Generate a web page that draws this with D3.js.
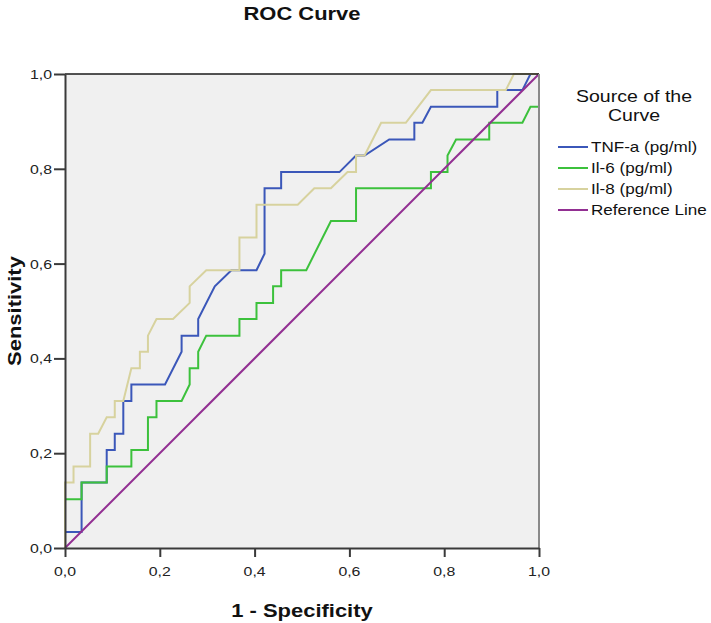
<!DOCTYPE html>
<html><head><meta charset="utf-8">
<script src="https://cdn.jsdelivr.net/npm/d3@7"></script>
<style>
body{margin:0;background:#fff}
svg{display:block}
text{font-family:"Liberation Sans",Arial,sans-serif}
</style>
</head><body>
<svg id="chart" width="711" height="623"></svg>
<script>
// ---- data ----
const tickValues = [0, 0.2, 0.4, 0.6, 0.8, 1.0];
const tickLabels = ["0,0", "0,2", "0,4", "0,6", "0,8", "1,0"];
const seriesNames = ["TNF-a (pg/ml)", "Il-6 (pg/ml)", "Il-8 (pg/ml)", "Reference Line"];
const seriesColors = ["#3b57b9", "#3cc13c", "#d7d29e", "#922f92"];

const tnfX = [0,0,0.035,0.035,0.088,0.088,0.105,0.105,0.123,0.123,0.140,0.140,0.211,0.246,0.246,0.281,0.281,0.316,0.351,0.404,0.421,0.421,0.456,0.456,0.579,0.614,0.632,0.684,0.737,0.737,0.754,0.772,0.912,0.912,0.965,0.982,1];
const tnfY = [0,0.034,0.034,0.138,0.138,0.207,0.207,0.241,0.241,0.310,0.310,0.345,0.345,0.414,0.448,0.448,0.483,0.552,0.586,0.586,0.621,0.759,0.759,0.793,0.793,0.828,0.828,0.862,0.862,0.897,0.897,0.931,0.931,0.966,0.966,1,1];

const il6X = [0,0,0.035,0.035,0.088,0.088,0.140,0.140,0.175,0.175,0.193,0.193,0.246,0.263,0.263,0.281,0.281,0.298,0.368,0.368,0.404,0.404,0.439,0.439,0.456,0.456,0.509,0.561,0.614,0.614,0.772,0.772,0.807,0.807,0.825,0.895,0.895,0.965,0.982,1,1];
const il6Y = [0,0.103,0.103,0.138,0.138,0.172,0.172,0.207,0.207,0.276,0.276,0.310,0.310,0.345,0.379,0.379,0.414,0.448,0.448,0.483,0.483,0.517,0.517,0.552,0.552,0.586,0.586,0.690,0.690,0.759,0.759,0.793,0.793,0.828,0.862,0.862,0.897,0.897,0.931,0.931,1];

const il8X = [0,0,0.018,0.018,0.053,0.053,0.070,0.088,0.105,0.105,0.123,0.140,0.158,0.158,0.175,0.175,0.193,0.228,0.263,0.263,0.298,0.368,0.368,0.404,0.404,0.491,0.526,0.561,0.596,0.614,0.614,0.632,0.667,0.719,0.772,0.930,0.947,1];
const il8Y = [0,0.138,0.138,0.172,0.172,0.241,0.241,0.276,0.276,0.310,0.310,0.379,0.379,0.414,0.414,0.448,0.483,0.483,0.517,0.552,0.586,0.586,0.655,0.655,0.724,0.724,0.759,0.759,0.793,0.793,0.828,0.828,0.897,0.897,0.966,0.966,1,1];

const refX = [0, 1];
const refY = [0, 1];

// ---- layout ----
const L = 65, R = 539, T = 74, B = 548;
const SX = 1.22; // horizontal text stretch
const svg = d3.select("#chart");
const x = d3.scaleLinear().domain([0, 1]).range([L, R]);
const y = d3.scaleLinear().domain([0, 1]).range([B, T]);

function stext(str, px, py, o) {
  const g = svg.append("g").attr("transform",
    `translate(${px},${py})` + (o.rotate ? ` rotate(${o.rotate})` : "") + ` scale(${SX},1)`);
  g.append("text")
    .attr("text-anchor", o.anchor || "start")
    .style("font-size", o.size + "px")
    .style("font-weight", o.bold ? "bold" : "normal")
    .attr("fill", o.fill || "#111")
    .text(str);
}

// plot background
svg.append("rect").attr("x", L).attr("y", T).attr("width", R - L).attr("height", B - T).attr("fill", "#f0f0f0");

// series
const line = d3.line().x(d => x(d[0])).y(d => y(d[1]));
const series = [d3.zip(tnfX, tnfY), d3.zip(il6X, il6Y), d3.zip(il8X, il8Y), d3.zip(refX, refY)];
series.forEach((s, i) => {
  svg.append("path").datum(s).attr("d", line)
    .attr("fill", "none").attr("stroke", seriesColors[i]).attr("stroke-width", 2);
});

// frame: top and right
svg.append("line").attr("x1", L).attr("x2", R).attr("y1", T).attr("y2", T).attr("stroke", "#1a1a1a").attr("stroke-width", 1.5);
svg.append("line").attr("x1", R).attr("x2", R).attr("y1", T).attr("y2", B).attr("stroke", "#8a8a8a").attr("stroke-width", 2);

// axes
const ax = svg.append("g").attr("transform", `translate(0,${B})`)
  .call(d3.axisBottom(x).tickValues(tickValues).tickSize(9).tickSizeOuter(0).tickFormat(""));
const ay = svg.append("g").attr("transform", `translate(${L},0)`)
  .call(d3.axisLeft(y).tickValues(tickValues).tickSize(11).tickSizeOuter(0).tickFormat(""));
[ax, ay].forEach(a => {
  a.select(".domain").attr("stroke", "#3a3a3a").attr("stroke-width", 2);
  a.selectAll(".tick line").attr("stroke", "#3a3a3a").attr("stroke-width", 2);
});

// tick labels
tickValues.forEach((v, i) => {
  stext(tickLabels[i], x(v), 576, {anchor: "middle", size: 13, fill: "#222"});
  stext(tickLabels[i], 52, y(v) + 5, {anchor: "end", size: 13, fill: "#222"});
});

// titles
stext("ROC Curve", (L + R) / 2, 20, {anchor: "middle", size: 18, bold: true});
stext("1 - Specificity", (L + R) / 2, 617, {anchor: "middle", size: 18, bold: true});
stext("Sensitivity", 21, (T + B) / 2, {anchor: "middle", size: 18, bold: true, rotate: -90});

// legend
stext("Source of the", 634, 102, {anchor: "middle", size: 16});
stext("Curve", 634, 121, {anchor: "middle", size: 16});
const legY = [147, 168, 189, 210];
seriesNames.forEach((n, i) => {
  svg.append("line").attr("x1", 558).attr("x2", 588).attr("y1", legY[i]).attr("y2", legY[i])
    .attr("stroke", seriesColors[i]).attr("stroke-width", 2);
  stext(n, 591, legY[i] + 5, {size: 14, fill: "#111"});
});
</script>
</body></html>
